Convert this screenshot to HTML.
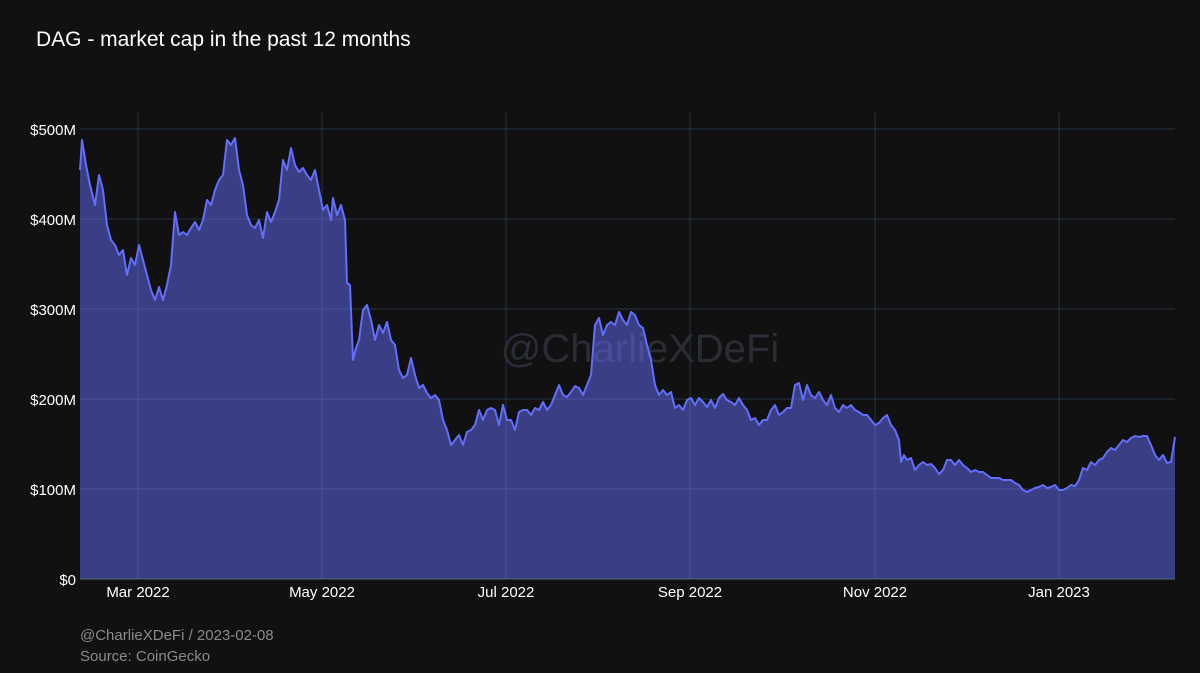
<!DOCTYPE html>
<html><head><meta charset="utf-8"><style>
html,body{margin:0;padding:0;background:#111111;}
svg{display:block;font-family:"Liberation Sans",sans-serif;}
</style></head><body>
<svg width="1200" height="673" viewBox="0 0 1200 673">
<rect width="1200" height="673" fill="#111111"/>
<text x="36" y="46" fill="#ffffff" font-size="21">DAG - market cap in the past 12 months</text>
<g stroke="#283442" stroke-width="1">
<line x1="80" y1="129" x2="1175" y2="129"/>
<line x1="80" y1="219" x2="1175" y2="219"/>
<line x1="80" y1="309" x2="1175" y2="309"/>
<line x1="80" y1="399" x2="1175" y2="399"/>
<line x1="80" y1="489" x2="1175" y2="489"/>
<line x1="138" y1="113" x2="138" y2="579"/>
<line x1="322" y1="113" x2="322" y2="579"/>
<line x1="506" y1="113" x2="506" y2="579"/>
<line x1="690" y1="113" x2="690" y2="579"/>
<line x1="875" y1="113" x2="875" y2="579"/>
<line x1="1059" y1="113" x2="1059" y2="579"/>
</g>
<text x="640" y="362" fill="#2a2d36" font-size="40" text-anchor="middle">@CharlieXDeFi</text>
<polygon fill="rgba(99,110,250,0.5)" stroke="none" points="80,579 80,170 82,140 86,165 90,185 95,205 99,175 103,190 107,225 111,240 115,245 119,255 123,250 127,275 131,258 135,265 139,245 143,260 147,275 151,290 155,300 159,287 163,300 167,285 171,265 175,212 179,235 183,232 187,235 191,228 195,222 199,230 203,220 207,200 211,205 215,190 219,180 223,175 227,140 231,145 235,138 239,170 243,185 247,215 251,225 255,228 259,220 263,238 267,212 271,222 275,212 279,200 283,160 287,170 291,148 295,165 299,172 303,168 307,175 311,180 315,170 319,190 323,210 327,205 331,220 333,198 337,215 341,205 345,220 347,283 350,285 353,360 356,348 359,340 363,310 367,305 371,320 375,340 379,325 383,333 387,322 391,340 395,345 399,370 403,378 407,375 411,358 415,375 419,388 423,385 427,393 431,398 435,395 439,400 443,420 447,430 451,445 455,440 459,435 463,445 467,432 471,430 475,425 479,410 483,420 487,410 491,408 495,410 499,425 503,405 507,420 511,420 515,430 519,412 523,410 527,410 531,415 535,408 539,410 543,402 547,410 551,405 555,395 559,385 563,395 567,397 571,392 575,386 579,388 583,395 587,385 591,375 595,325 599,318 603,335 607,325 611,322 615,325 619,312 623,320 627,325 631,312 635,315 639,325 643,328 647,345 651,360 655,385 659,395 663,390 667,395 671,392 675,408 679,405 683,410 687,400 691,398 695,405 699,398 703,402 707,407 711,400 715,408 719,398 723,394 727,400 731,402 735,405 739,398 743,405 747,410 751,420 755,418 759,425 763,420 767,420 771,410 775,405 779,415 783,412 787,408 791,408 795,385 799,383 803,400 807,385 811,395 815,398 819,392 823,400 827,405 831,395 835,408 839,412 843,405 847,408 851,405 855,410 859,412 863,415 867,415 871,420 875,425 879,423 883,418 887,415 891,425 895,430 899,440 901,462 904,455 907,460 911,458 915,470 919,465 923,462 927,465 931,464 935,468 939,474 943,470 947,460 951,460 955,465 959,460 963,465 967,468 971,472 975,470 979,472 983,472 987,475 991,478 995,478 999,478 1003,480 1007,480 1011,480 1015,483 1019,485 1023,490 1027,492 1031,490 1035,488 1039,487 1043,485 1047,488 1051,487 1055,485 1059,490 1063,490 1067,488 1071,485 1075,486 1079,480 1083,468 1087,470 1091,462 1095,465 1099,460 1103,458 1107,452 1111,448 1115,450 1119,445 1123,440 1127,442 1131,438 1135,436 1139,437 1143,436 1147,436 1151,445 1155,455 1159,460 1163,455 1167,463 1171,462 1175,437 1175,579"/>
<polyline fill="none" stroke="#636efa" stroke-width="2" stroke-linejoin="round" points="80,170 82,140 86,165 90,185 95,205 99,175 103,190 107,225 111,240 115,245 119,255 123,250 127,275 131,258 135,265 139,245 143,260 147,275 151,290 155,300 159,287 163,300 167,285 171,265 175,212 179,235 183,232 187,235 191,228 195,222 199,230 203,220 207,200 211,205 215,190 219,180 223,175 227,140 231,145 235,138 239,170 243,185 247,215 251,225 255,228 259,220 263,238 267,212 271,222 275,212 279,200 283,160 287,170 291,148 295,165 299,172 303,168 307,175 311,180 315,170 319,190 323,210 327,205 331,220 333,198 337,215 341,205 345,220 347,283 350,285 353,360 356,348 359,340 363,310 367,305 371,320 375,340 379,325 383,333 387,322 391,340 395,345 399,370 403,378 407,375 411,358 415,375 419,388 423,385 427,393 431,398 435,395 439,400 443,420 447,430 451,445 455,440 459,435 463,445 467,432 471,430 475,425 479,410 483,420 487,410 491,408 495,410 499,425 503,405 507,420 511,420 515,430 519,412 523,410 527,410 531,415 535,408 539,410 543,402 547,410 551,405 555,395 559,385 563,395 567,397 571,392 575,386 579,388 583,395 587,385 591,375 595,325 599,318 603,335 607,325 611,322 615,325 619,312 623,320 627,325 631,312 635,315 639,325 643,328 647,345 651,360 655,385 659,395 663,390 667,395 671,392 675,408 679,405 683,410 687,400 691,398 695,405 699,398 703,402 707,407 711,400 715,408 719,398 723,394 727,400 731,402 735,405 739,398 743,405 747,410 751,420 755,418 759,425 763,420 767,420 771,410 775,405 779,415 783,412 787,408 791,408 795,385 799,383 803,400 807,385 811,395 815,398 819,392 823,400 827,405 831,395 835,408 839,412 843,405 847,408 851,405 855,410 859,412 863,415 867,415 871,420 875,425 879,423 883,418 887,415 891,425 895,430 899,440 901,462 904,455 907,460 911,458 915,470 919,465 923,462 927,465 931,464 935,468 939,474 943,470 947,460 951,460 955,465 959,460 963,465 967,468 971,472 975,470 979,472 983,472 987,475 991,478 995,478 999,478 1003,480 1007,480 1011,480 1015,483 1019,485 1023,490 1027,492 1031,490 1035,488 1039,487 1043,485 1047,488 1051,487 1055,485 1059,490 1063,490 1067,488 1071,485 1075,486 1079,480 1083,468 1087,470 1091,462 1095,465 1099,460 1103,458 1107,452 1111,448 1115,450 1119,445 1123,440 1127,442 1131,438 1135,436 1139,437 1143,436 1147,436 1151,445 1155,455 1159,460 1163,455 1167,463 1171,462 1175,437"/>
<line x1="80" y1="579" x2="1175" y2="579" stroke="#506784" stroke-width="1"/>
<g fill="#ffffff" font-size="15" text-anchor="end">
<text x="76" y="135">$500M</text>
<text x="76" y="225">$400M</text>
<text x="76" y="315">$300M</text>
<text x="76" y="405">$200M</text>
<text x="76" y="495">$100M</text>
<text x="76" y="585">$0</text>
</g>
<g fill="#ffffff" font-size="15" text-anchor="middle">
<text x="138" y="597">Mar 2022</text>
<text x="322" y="597">May 2022</text>
<text x="506" y="597">Jul 2022</text>
<text x="690" y="597">Sep 2022</text>
<text x="875" y="597">Nov 2022</text>
<text x="1059" y="597">Jan 2023</text>
</g>
<text x="80" y="640" fill="#8a8a8a" font-size="15">@CharlieXDeFi / 2023-02-08</text>
<text x="80" y="661" fill="#8a8a8a" font-size="15">Source: CoinGecko</text>
</svg>
</body></html>
